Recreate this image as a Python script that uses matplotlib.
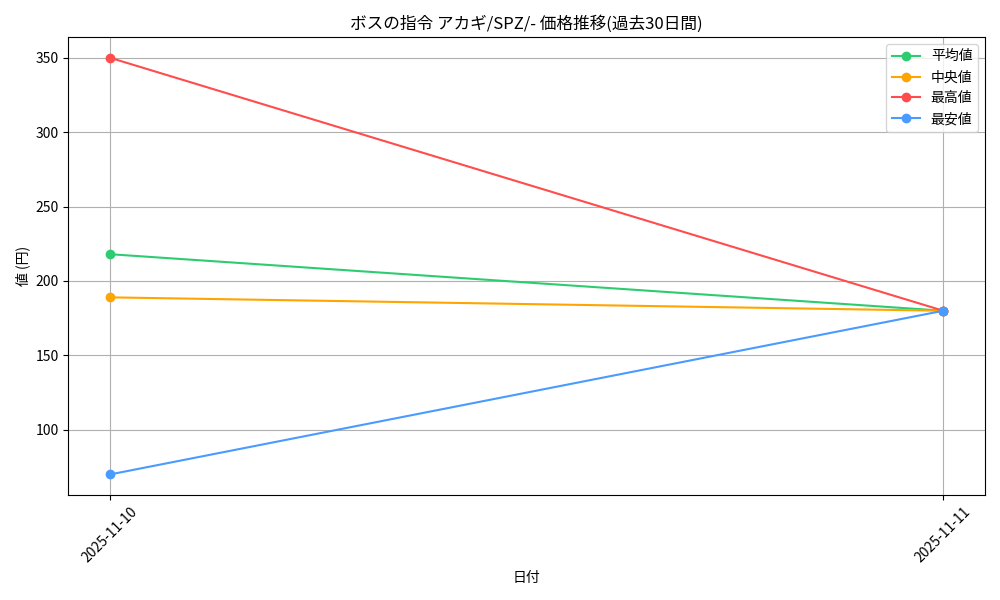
import matplotlib
matplotlib.use("Agg")
import matplotlib.pyplot as plt
from matplotlib import font_manager

names = {f.name for f in font_manager.fontManager.ttflist}
fams = [n for n in ['Noto Sans Mono CJK JP', 'Noto Sans CJK JP'] if n in names]
plt.rcParams['font.family'] = fams + ['DejaVu Sans']

dates = ["2025-11-10", "2025-11-11"]
avg_vals = [218, 180]
median_vals = [189, 180]
max_vals = [350, 180]
min_vals = [70, 180]

fig, ax = plt.subplots(figsize=(10, 6), dpi=100)
ax.plot(dates, avg_vals, marker='o', color='#2ecc71', label='平均値')
ax.plot(dates, median_vals, marker='o', color='#ffa500', label='中央値')
ax.plot(dates, max_vals, marker='o', color='#ff4c4c', label='最高値')
ax.plot(dates, min_vals, marker='o', color='#4a9bff', label='最安値')

ax.set_title('ボスの指令 アカギ/SPZ/- 価格推移(過去30日間)')
ax.set_xlabel('日付')
ax.set_ylabel('値 (円)')
ax.grid(True)
ax.legend(loc='upper right')
plt.setp(ax.get_xticklabels(), rotation=45)
fig.tight_layout()
fig.savefig('out.png')
